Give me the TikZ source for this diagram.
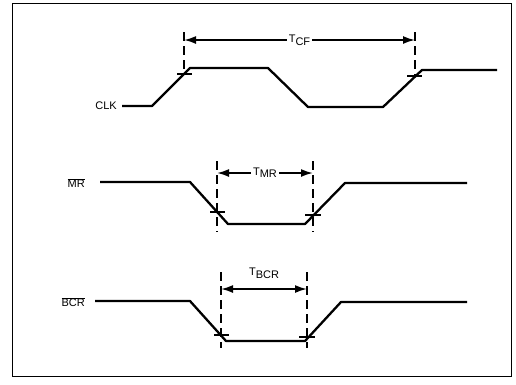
\documentclass[tikz,border=0pt]{standalone}
\usepackage{fontspec}
\setmainfont{Liberation Sans}
\usetikzlibrary{arrows.meta, positioning, calc}

\begin{document}
\begin{tikzpicture}[x=1pt, y=-1pt,
  sig/.style={line width=2.3pt, line join=round},
  guide/.style={line width=1.8pt, dash pattern=on 9pt off 5pt},
  xtick/.style={line width=1.8pt},
  dimarr/.style={line width=1.8pt, {Latex[length=12pt,width=8pt]}-{Latex[length=12pt,width=8pt]}},
  sname/.style={font=\fontsize{11}{13}\selectfont, anchor=east, inner sep=1pt},
  tlbl/.style={font=\fontsize{11}{13}\selectfont, fill=white, inner sep=2pt}
]

%% 外框（整張圖 516 x 384）
\useasboundingbox (0,0) rectangle (516,384);
\draw[line width=0.8pt] (12,3) rectangle (511,376);

%% CLK 波形
\node[sname] (clk) at (118,106) {CLK};
\draw[sig] (122,106) -- (152,106) -- (190,68) -- (268,68) -- (308,107)
           -- (383,107) -- (422,70) -- (497,70);

\coordinate (cfa) at (184,32);
\coordinate (cfb) at (415,32);
\draw[guide] (cfa) -- (184,74);
\draw[guide] (cfb) -- (415,76);
\draw[xtick] (177,74) -- (192,74);
\draw[xtick] (407,76) -- (422,76);
\draw[dimarr] ($(cfa)+(0,8)$) -- ($(cfb)+(0,8)$)
  node[midway, tlbl] (tcf) {T\raisebox{-0.45ex}{CF}};

%% MR 波形
\node[sname] (mr) at (86,183) {$\overline{\mbox{MR}}$};
\draw[sig] (100,182) -- (190,182) -- (228,224) -- (305,224) -- (345,183)
           -- (467,183);

\coordinate (mra) at (217,161);
\coordinate (mrb) at (313,161);
\draw[guide] (mra) -- (217,232);
\draw[guide] (mrb) -- (313,232);
\draw[xtick] (210,212) -- (225,212);
\draw[xtick] (305,215) -- (321,215);
\draw[dimarr] ($(mra)+(0,12)$) -- ($(mrb)+(0,12)$)
  node[midway, tlbl] (tmr) {\raisebox{0.4ex}{T}MR};

%% BCR 波形
\node[sname] (bcr) at (86,302) {$\overline{\mbox{BCR}}$};
\draw[sig] (95,301) -- (190,301) -- (226,341) -- (305,341) -- (341,302)
           -- (467,302);

\coordinate (bca) at (221,272);
\coordinate (bcb) at (307,272);
\draw[guide] (bca) -- (221,348);
\draw[guide] (bcb) -- (307,348);
\draw[xtick] (214,335) -- (229,335);
\draw[xtick] (299,337) -- (315,337);
\draw[dimarr] ($(bca)+(0,17)$) -- ($(bcb)+(0,17)$);
\node[font=\fontsize{11}{13}\selectfont] (tbcr) at (264,273) {T\raisebox{-0.45ex}{BCR}};

\end{tikzpicture}
\end{document}
